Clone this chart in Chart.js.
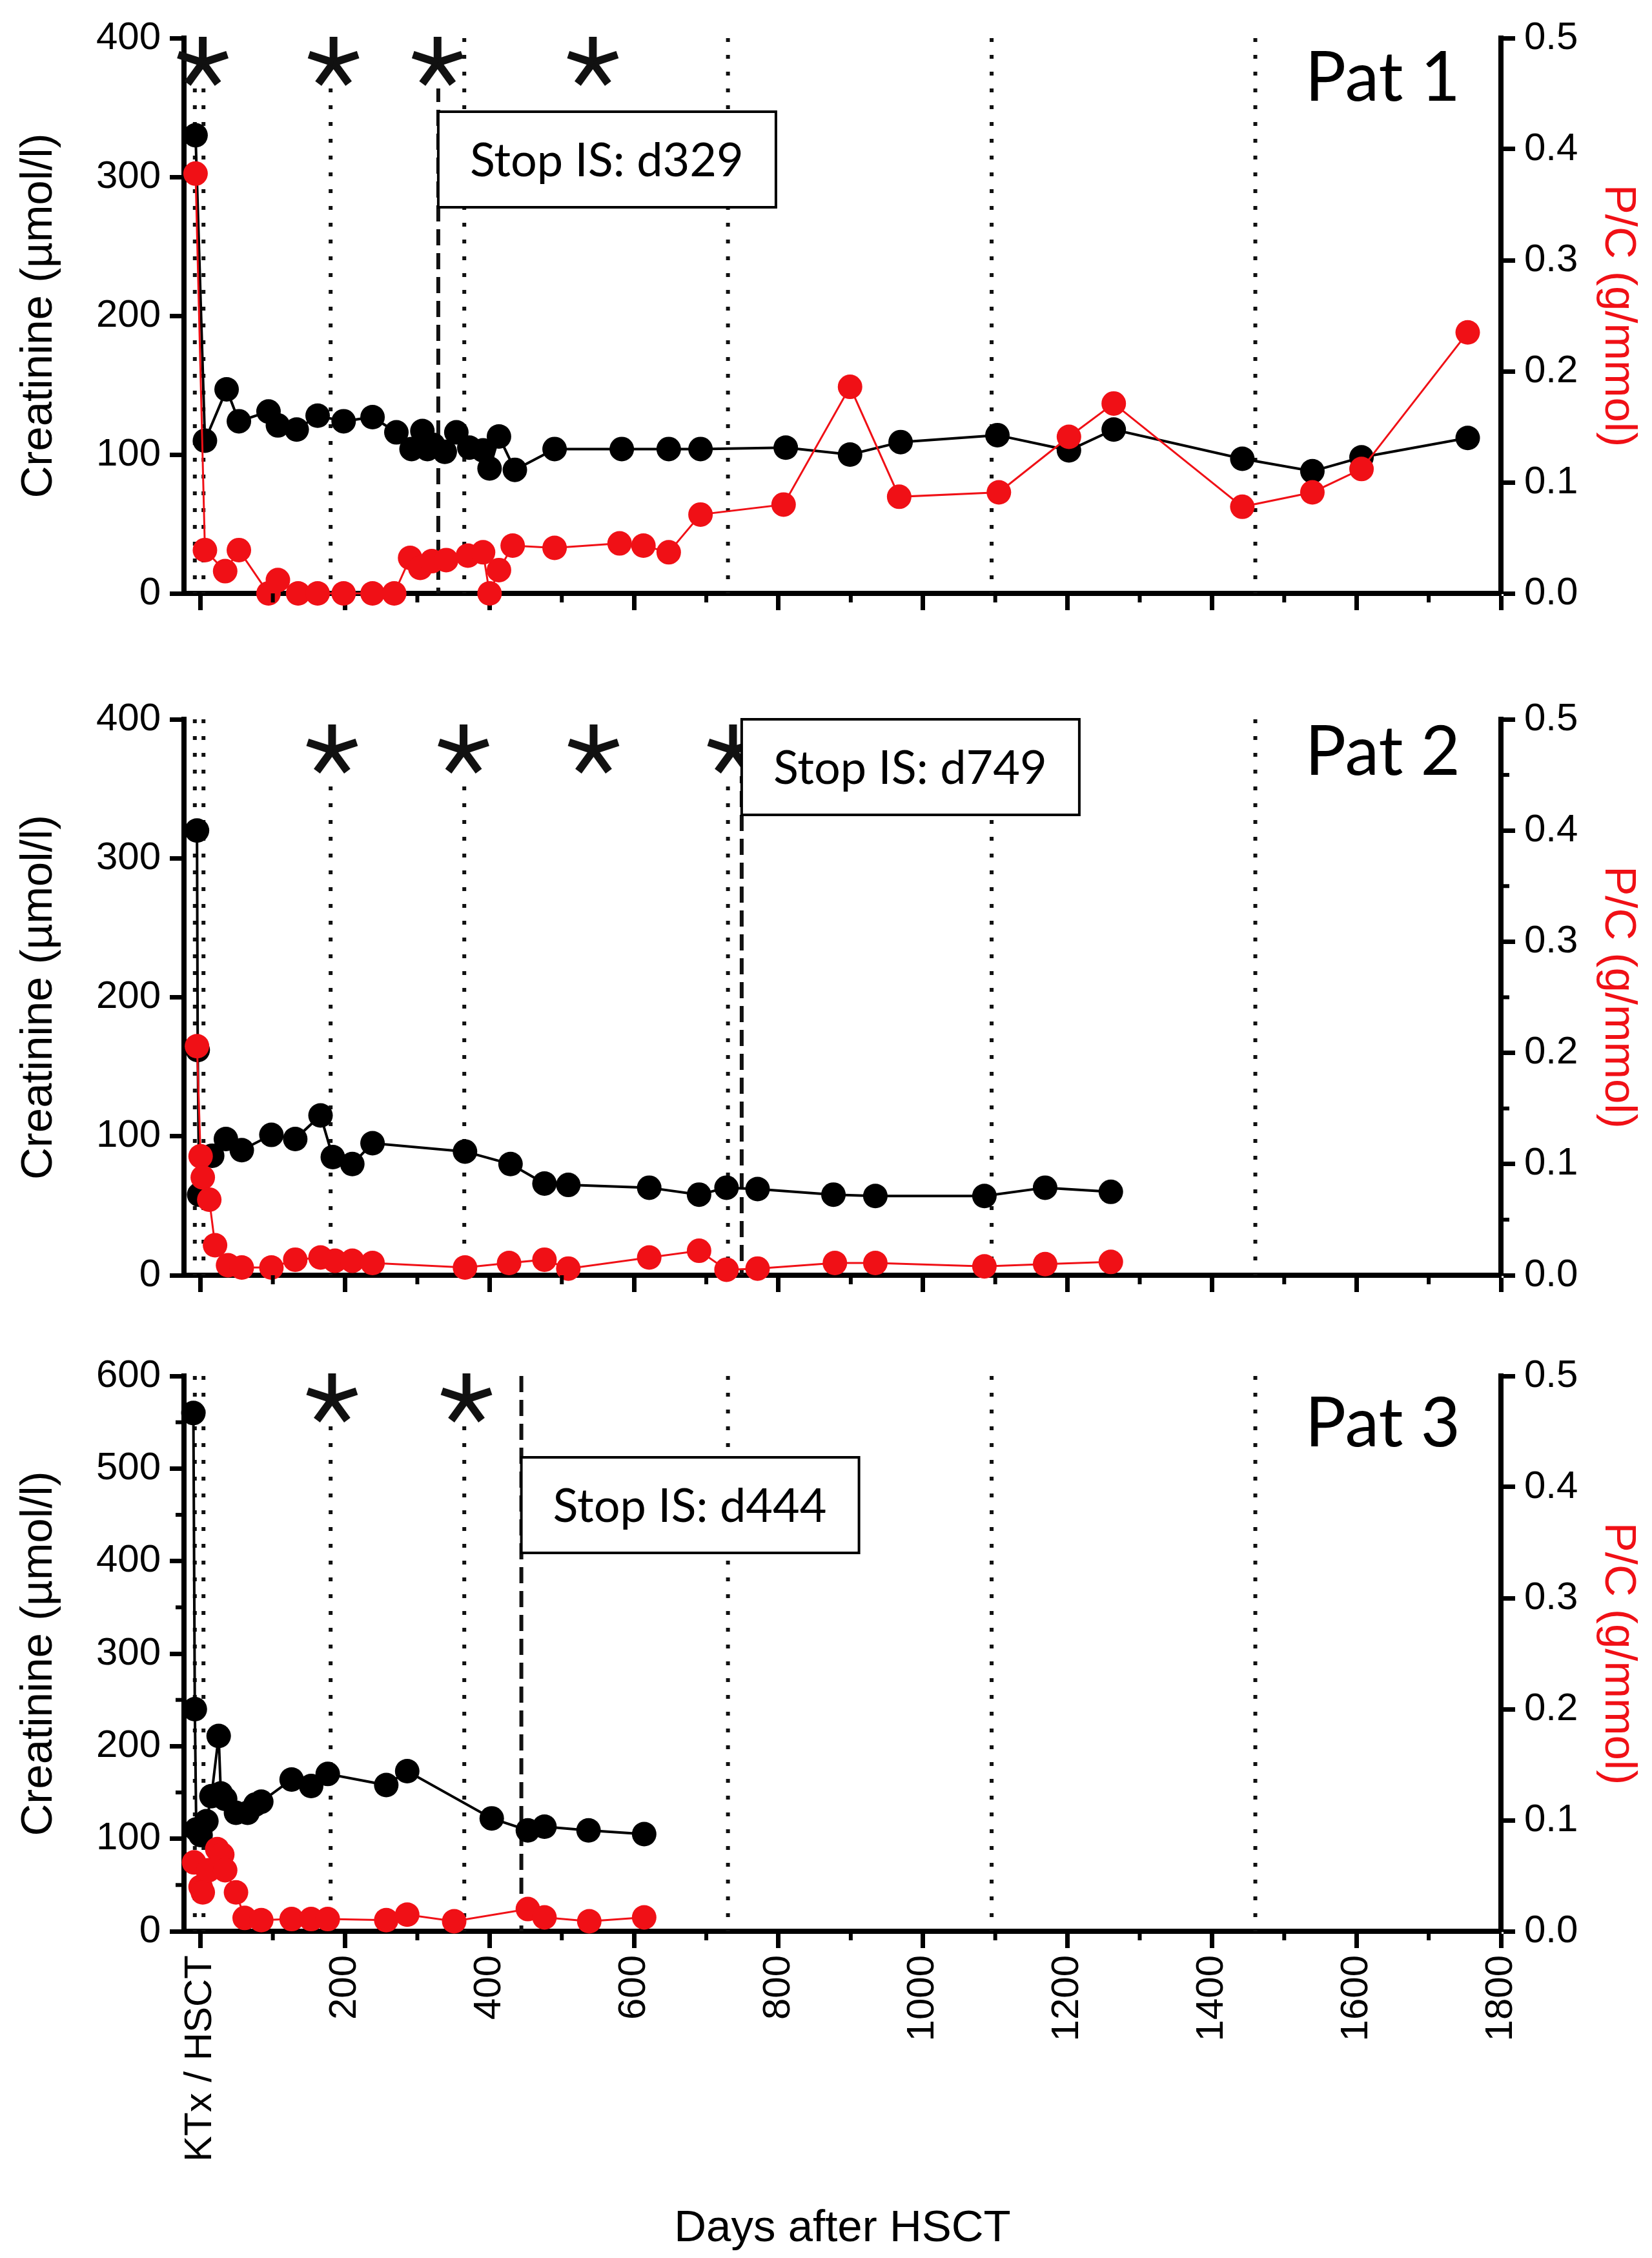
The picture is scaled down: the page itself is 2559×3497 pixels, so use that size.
<!DOCTYPE html>
<html>
<head>
<meta charset="utf-8">
<script src="https://cdn.jsdelivr.net/npm/chart.js@4.4.1/dist/chart.umd.min.js"></script>
<style>
html, body { margin: 0; padding: 0; background: #fff; }
canvas { position: absolute; left: 0; }
</style>
</head>
<body>
<canvas id="pat1" width="2559" height="1000" style="top:0px"></canvas>
<canvas id="pat2" width="2559" height="1000" style="top:1055px"></canvas>
<canvas id="pat3" width="2559" height="1425" style="top:2072px"></canvas>
<script>
// shared x axis
let xTickDays = [0, 200, 400, 600, 800, 1000, 1200, 1400, 1600, 1800];
let xMinorDays = [100, 300, 500, 700, 900, 1100, 1300, 1500, 1700];
let refDays = [-8, 4, 180, 365, 730, 1095, 1460];

// Pat 1
let p1CrDays = [-7, 6, 36, 53, 94, 107, 133, 162, 198, 238, 271, 292, 307, 314, 322, 338, 354, 372, 391, 400, 413, 435, 490, 583, 648, 692, 810, 899, 969, 1103, 1202, 1264, 1442, 1539, 1607, 1754];
let p1Cr = [330, 110, 147, 124, 131, 121, 118, 128, 124, 127, 116, 104, 117, 104, 107, 102, 116, 105, 103, 90, 113, 89, 104, 104, 104, 104, 105, 100, 109, 114, 103, 118, 97, 88, 98, 112];
let p1PcDays = [-7, 6, 34, 53, 94, 107, 135, 162, 198, 238, 268, 290, 304, 320, 340, 370, 391, 400, 413, 432, 490, 580, 613, 648, 692, 807, 899, 967, 1105, 1202, 1264, 1442, 1539, 1607, 1754];
let p1Pc = [0.378, 0.039, 0.020, 0.039, 0.0, 0.012, 0.0, 0.0, 0.0, 0.0, 0.0, 0.032, 0.023, 0.029, 0.030, 0.034, 0.037, 0.0, 0.021, 0.043, 0.041, 0.045, 0.043, 0.037, 0.071, 0.080, 0.186, 0.087, 0.091, 0.141, 0.171, 0.078, 0.091, 0.112, 0.235];
let p1Stars = [3, 184, 328, 543];

// Pat 2
let p2CrDays = [-5, -4, -2, 16, 35, 57, 98, 131, 166, 183, 210, 238, 366, 429, 476, 509, 621, 690, 728, 771, 876, 934, 1085, 1169, 1260];
let p2Cr = [320, 162, 58, 86, 98, 90, 101, 98, 115, 85, 80, 95, 89, 80, 66, 65, 63, 58, 63, 62, 58, 57, 57, 63, 60];
let p2PcDays = [-5, 0, 3, 12, 20, 38, 57, 98, 131, 166, 186, 210, 238, 366, 427, 476, 509, 621, 690, 728, 771, 878, 934, 1085, 1169, 1260];
let p2Pc = [0.206, 0.107, 0.088, 0.068, 0.027, 0.009, 0.007, 0.007, 0.014, 0.016, 0.013, 0.013, 0.011, 0.007, 0.011, 0.014, 0.006, 0.016, 0.022, 0.005, 0.006, 0.011, 0.011, 0.008, 0.010, 0.012];
let p2Stars = [182, 364, 544, 737];

// Pat 3
let p3CrDays = [-10, -8, -6, 0, 8, 15, 25, 28, 34, 49, 65, 76, 84, 126, 153, 176, 257, 286, 403, 453, 476, 537, 614];
let p3Cr = [560, 240, 110, 104, 119, 146, 211, 149, 143, 128, 128, 137, 140, 164, 157, 170, 158, 173, 122, 109, 113, 109, 105];
let p3PcDays = [-9, 0, 3, 11, 23, 30, 34, 49, 61, 84, 126, 153, 176, 257, 286, 351, 453, 476, 538, 614];
let p3Pc = [0.062, 0.040, 0.035, 0.055, 0.074, 0.069, 0.055, 0.035, 0.012, 0.010, 0.011, 0.011, 0.011, 0.010, 0.015, 0.009, 0.020, 0.0125, 0.009, 0.0125];
let p3Stars = [182, 368];

let RED = 'rgb(240, 16, 22)';
let FONT = "'Liberation Sans', Arial, sans-serif";
let BOXFONT = "Lato, 'Open Sans', sans-serif";

Chart.defaults.font.family = FONT;
Chart.defaults.color = '#000';

let seg = function (ctx, x1, y1, x2, y2) {
    ctx.beginPath();
    ctx.moveTo(x1, y1);
    ctx.lineTo(x2, y2);
    ctx.stroke();
};

let star = function (ctx, x, y, r) {
    ctx.lineWidth = 12;
    ctx.lineCap = 'butt';
    ctx.strokeStyle = '#111';
    for (let k = 0; k < 5; k++) {
        let ang = k * 72 * Math.PI / 180;
        seg(ctx, x, y, x + r * Math.sin(ang), y - r * Math.cos(ang));
    }
};

let decor = {
    id: 'decor',
    beforeDatasetsDraw(chart, args, o) {
        let ctx = chart.ctx, a = chart.chartArea, xs = chart.scales.x;
        ctx.save();
        ctx.strokeStyle = '#111';
        ctx.lineWidth = 6;
        ctx.setLineDash([6, 20]);
        refDays.forEach(d => {
            let x = xs.getPixelForValue(d);
            seg(ctx, x, a.top, x, a.bottom);
        });
        ctx.lineWidth = 6;
        ctx.setLineDash([25, 12]);
        let sx = xs.getPixelForValue(o.stopDay);
        seg(ctx, sx, a.top, sx, a.bottom);
        ctx.setLineDash([]);

        o.stars.forEach(d => {
            let x = xs.getPixelForValue(d);
            ctx.fillStyle = '#fff';
            ctx.fillRect(Math.max(x - 24, a.left + 6), a.top - 2, 48, o.starY + 42);
            star(ctx, x, a.top + o.starY, 40);
        });

        // Stop IS box
        let by = a.top + o.boxY;
        ctx.fillStyle = '#fff';
        ctx.fillRect(sx, by, 523, 148);
        ctx.lineWidth = 4;
        ctx.strokeStyle = '#000';
        ctx.strokeRect(sx, by, 523, 148);
        ctx.fillStyle = '#000';
        ctx.font = '72px ' + BOXFONT;
        ctx.textAlign = 'center';
        ctx.textBaseline = 'alphabetic';
        ctx.fillText('Stop IS: d' + o.stopDay, sx + 261, by + 100);

        ctx.font = '106px ' + BOXFONT;
        ctx.textAlign = 'right';
        ctx.fillText(o.name, a.right - 63, a.top + o.patY);
        ctx.restore();
    },
    afterDraw(chart, args, o) {
        let ctx = chart.ctx, a = chart.chartArea;
        ctx.save();
        ctx.strokeStyle = '#000';
        ctx.lineWidth = 6;
        xMinorDays.forEach(d => {
            let x = chart.scales.x.getPixelForValue(d);
            seg(ctx, x, a.bottom, x, a.bottom + 14);
        });
        o.leftMinor.forEach(v => {
            let y = chart.scales.y.getPixelForValue(v);
            seg(ctx, a.left - 13, y, a.left, y);
        });
        o.rightMinor.forEach(v => {
            let y = chart.scales.y1.getPixelForValue(v);
            seg(ctx, a.right, y, a.right + 13, y);
        });
        ctx.restore();
    }
};

let makePanel = function (id, o) {
    let pts = (days, vals) => days.map((d, i) => ({x: d, y: vals[i]}));
    return new Chart(document.getElementById(id), {
        type: 'line',
        data: {
            datasets: [{
                label: 'Creatinine',
                data: pts(o.crDays, o.cr),
                yAxisID: 'y',
                borderColor: '#000',
                backgroundColor: '#000',
                borderWidth: 4,
                pointRadius: 19,
                pointBorderWidth: 0,
                tension: 0,
                clip: false,
                order: 1
            }, {
                label: 'P/C',
                data: pts(o.pcDays, o.pc),
                yAxisID: 'y1',
                borderColor: RED,
                backgroundColor: RED,
                borderWidth: 3,
                pointRadius: 19,
                pointBorderWidth: 0,
                tension: 0,
                clip: false,
                order: 0
            }]
        },
        options: {
            responsive: false,
            devicePixelRatio: 1,
            animation: false,
            events: [],
            layout: {padding: {top: 59, left: 0, right: 0, bottom: 0}},
            plugins: {
                legend: {display: false},
                tooltip: {enabled: false},
                decor: o
            },
            scales: {
                x: {
                    type: 'linear',
                    min: -23,
                    max: 1800,
                    afterBuildTicks: s => { s.ticks = xTickDays.map(v => ({value: v})); },
                    afterFit: s => { s.height = o.xHeight; },
                    grid: {drawOnChartArea: false, tickLength: 26, tickWidth: 7, tickColor: '#000'},
                    border: {color: '#000', width: 8},
                    ticks: {
                        autoSkip: false,
                        minRotation: 90,
                        maxRotation: 90,
                        padding: 11,
                        font: {size: 60},
                        callback: v => o.xLabels ? (v === 0 ? 'KTx / HSCT' : String(v)) : ''
                    },
                    title: {
                        display: o.xLabels,
                        text: 'Days after HSCT',
                        font: {size: 69},
                        padding: {top: 0, bottom: 4}
                    }
                },
                y: {
                    position: 'left',
                    min: 0,
                    max: o.crMax,
                    afterFit: s => { s.width = 285; },
                    grid: {drawOnChartArea: false, tickLength: 22, tickWidth: 7, tickColor: '#000'},
                    border: {color: '#000', width: 8},
                    ticks: {stepSize: 100, padding: 14, font: {size: 60}},
                    title: {
                        display: true,
                        text: 'Creatinine (µmol/l)',
                        font: {size: 69},
                        padding: {top: 20, bottom: 0}
                    }
                },
                y1: {
                    position: 'right',
                    min: 0,
                    max: 0.5,
                    afterFit: s => { s.width = 234; },
                    grid: {drawOnChartArea: false, tickLength: 22, tickWidth: 7, tickColor: '#000'},
                    border: {color: '#000', width: 8},
                    ticks: {stepSize: 0.1, padding: 14, font: {size: 60}, callback: v => v.toFixed(1)},
                    title: {
                        display: true,
                        text: 'P/C (g/mmol)',
                        color: RED,
                        font: {size: 69},
                        padding: {top: 12, bottom: 0}
                    }
                }
            }
        },
        plugins: [decor]
    });
};

window.pat1Chart = makePanel('pat1', {
    name: 'Pat 1', crDays: p1CrDays, cr: p1Cr, pcDays: p1PcDays, pc: p1Pc,
    crMax: 400, stars: p1Stars, stopDay: 329,
    starY: 38, boxY: 114, patY: 97, xHeight: 81, xLabels: false,
    leftMinor: [], rightMinor: []
});

window.pat2Chart = makePanel('pat2', {
    name: 'Pat 2', crDays: p2CrDays, cr: p2Cr, pcDays: p2PcDays, pc: p2Pc,
    crMax: 400, stars: p2Stars, stopDay: 749,
    starY: 48, boxY: 0, patY: 86, xHeight: 80, xLabels: false,
    leftMinor: [], rightMinor: [0.05, 0.15, 0.25, 0.35, 0.45]
});

window.pat3Chart = makePanel('pat3', {
    name: 'Pat 3', crDays: p3CrDays, cr: p3Cr, pcDays: p3PcDays, pc: p3Pc,
    crMax: 600, stars: p3Stars, stopDay: 444,
    starY: 36, boxY: 126, patY: 109, xHeight: 506, xLabels: true,
    leftMinor: [50, 150, 250, 350, 450, 550], rightMinor: []
});
</script>
</body>
</html>
